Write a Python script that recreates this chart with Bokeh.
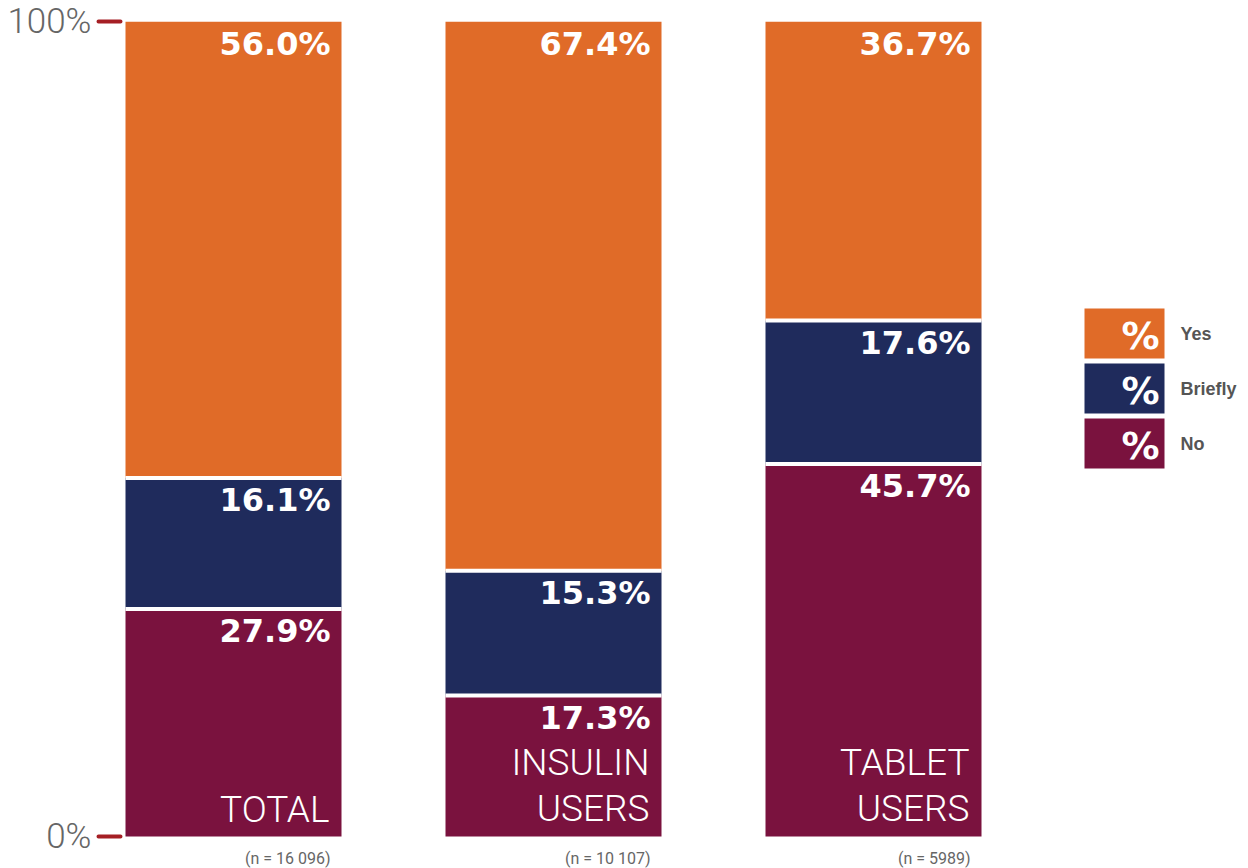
from bokeh.plotting import figure
from bokeh.models import ColumnDataSource, Range1d, FixedTicker
from bokeh.core.properties import value
from bokeh.embed import file_html
from bokeh.resources import INLINE

# ---- data ----
groups = ["TOTAL", "INSULIN\nUSERS", "TABLET\nUSERS"]
n_labels = ["(n = 16 096)", "(n = 10 107)", "(n = 5989)"]
no_vals = [27.9, 17.3, 45.7]
briefly_vals = [16.1, 15.3, 17.6]
yes_vals = [56.0, 67.4, 36.7]
series_names = ["Yes", "Briefly", "No"]
y_ticks = [0, 100]
y_tick_labels = {0: "0%", 100: "100%"}

ORANGE = "#E06B28"
NAVY = "#1F2B5C"
MAROON = "#7A123E"
TICK_RED = "#A51F24"
GRAY = "#666666"

W, H = 1248, 868
FRAME_L, FRAME_T = 124, 21
ZERO_Y = 836
px_per_unit_y = (ZERO_Y - FRAME_T) / 100.0
px_per_unit_x = 320.0
first_center = 233
bar_w = 216 / px_per_unit_x
x = list(range(len(groups)))

p = figure(width=W, height=H, output_backend="svg", toolbar_location=None,
           x_range=Range1d((FRAME_L - first_center) / px_per_unit_x, (W - first_center) / px_per_unit_x),
           y_range=Range1d(-(H - ZERO_Y) / px_per_unit_y, 100),
           min_border_left=FRAME_L, min_border_right=0, min_border_top=FRAME_T, min_border_bottom=0)
p.outline_line_color = None
p.xgrid.visible = False
p.ygrid.visible = False
p.xaxis.visible = False
p.background_fill_color = "white"

ya = p.yaxis[0]
ya.ticker = FixedTicker(ticks=y_ticks)
ya.major_label_overrides = y_tick_labels
ya.axis_line_color = None
ya.minor_tick_line_color = None
ya.major_tick_in = -4
ya.major_tick_out = 26
ya.major_tick_line_width = 4
ya.major_tick_line_color = TICK_RED
ya.major_tick_line_cap = "round"
ya.major_label_standoff = 7
ya.major_label_text_font = "Roboto Light"
ya.major_label_text_font_size = "35px"
ya.major_label_text_color = GRAY

# stacked bars
no_top = no_vals
br_bot = no_vals
br_top = [a + b for a, b in zip(no_vals, briefly_vals)]
yes_top = [a + b for a, b in zip(br_top, yes_vals)]
src = ColumnDataSource(dict(x=x, no_b=[0] * 3, no_t=no_top, br_b=br_bot, br_t=br_top,
                            yes_b=br_top, yes_t=yes_top,
                            right=[v + bar_w / 2 for v in x], left=[v - bar_w / 2 for v in x],
                            no_lbl=[f"{v:.1f}%" for v in no_vals],
                            br_lbl=[f"{v:.1f}%" for v in briefly_vals],
                            yes_lbl=[f"{v:.1f}%" for v in yes_vals],
                            grp=groups, n=n_labels))
p.vbar(x="x", width=bar_w, bottom="no_b", top="no_t", source=src, fill_color=MAROON, line_color=None)
p.vbar(x="x", width=bar_w, bottom="br_b", top="br_t", source=src, fill_color=NAVY, line_color=None)
p.vbar(x="x", width=bar_w, bottom="yes_b", top="yes_t", source=src, fill_color=ORANGE, line_color=None)
# white separators
p.segment(x0="left", x1="right", y0="no_t", y1="no_t", source=src, line_color="white", line_width=4)
p.segment(x0="left", x1="right", y0="br_t", y1="br_t", source=src, line_color="white", line_width=4)

val_font = value("DejaVu Sans")
for col, top in (("no_lbl", "no_t"), ("br_lbl", "br_t"), ("yes_lbl", "yes_t")):
    p.text(x="right", y=top, text=col, source=src, x_offset=-11, y_offset=3,
           text_align="right", text_baseline="top", text_color="white",
           text_font=val_font, text_font_style="bold", text_font_size="32px")

p.text(x="right", y=0, text="grp", source=src, x_offset=-12, y_offset=-6,
       text_align="right", text_baseline="bottom", text_color="white",
       text_font=value("Roboto Light"), text_font_size="37px", text_line_height=1.07)

p.text(x="right", y=0, text="n", source=src, x_offset=-11, y_offset=22,
       text_align="right", text_baseline="alphabetic", text_color=GRAY,
       text_font=value("Roboto"), text_font_size="16px")

# legend
leg_x = (1124 - first_center) / px_per_unit_x
leg_y0 = (ZERO_Y - 333) / px_per_unit_y
leg_dy = 55 / px_per_unit_y
leg_colors = [ORANGE, NAVY, MAROON]
leg_y = [leg_y0 - i * leg_dy for i in range(len(series_names))]
lsrc = ColumnDataSource(dict(x=[leg_x] * 3, y=leg_y, c=leg_colors, name=series_names,
                             pct=["%"] * 3, xr=[leg_x + 40 / px_per_unit_x] * 3))
p.rect(x="x", y="y", width=80, height=50, width_units="screen", height_units="screen",
       fill_color="c", line_color=None, source=lsrc)
p.text(x="xr", y="y", text="pct", source=lsrc, x_offset=-5, y_offset=2,
       text_align="right", text_baseline="middle", text_color="white",
       text_font=value("DejaVu Sans"), text_font_style="bold", text_font_size="38px")
p.text(x="xr", y="y", text="name", source=lsrc, x_offset=16, y_offset=0,
       text_align="left", text_baseline="middle", text_color="#555555",
       text_font=value("Liberation Sans"), text_font_style="bold", text_font_size="18px")

open("out.html", "w").write(file_html(p, INLINE))
